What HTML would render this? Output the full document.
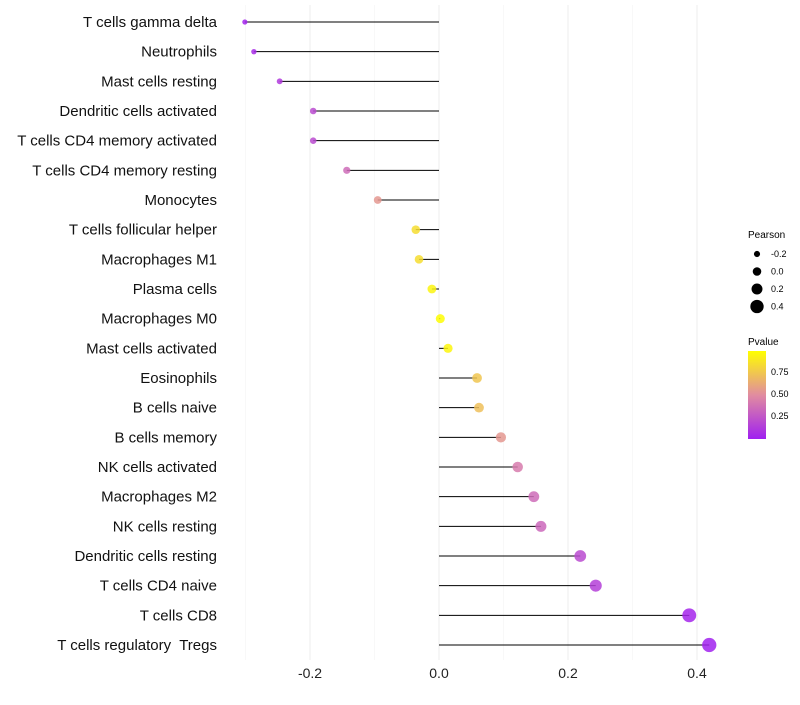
<!DOCTYPE html>
<html><head><meta charset="utf-8"><style>
body{margin:0;background:#fff;font-family:"Liberation Sans",sans-serif}
</style></head><body>
<svg id="chart" width="800" height="700" xmlns="http://www.w3.org/2000/svg" font-family="Liberation Sans, sans-serif">
<defs><linearGradient id="pg" x1="0" y1="1" x2="0" y2="0">
<stop offset="0" stop-color="#A020F0"/><stop offset="0.5" stop-color="#E18CA0"/><stop offset="1" stop-color="#FFFF00"/></linearGradient></defs>
<g id="grid"></g><g id="marks"></g><g id="labels"></g>
<g font-size="9">
<text x="748" y="238" font-size="10">Pearson</text>
<g id="sizeLegend"></g>
</g>
<g font-size="9">
<text x="748" y="345" font-size="10">Pvalue</text>
<rect x="748" y="351" width="18" height="88" fill="url(#pg)"/>
<text x="771" y="375">0.75</text><text x="771" y="397">0.50</text><text x="771" y="419">0.25</text>
</g>
</svg>
<script>
const categories=["T cells gamma delta","Neutrophils","Mast cells resting","Dendritic cells activated","T cells CD4 memory activated","T cells CD4 memory resting","Monocytes","T cells follicular helper","Macrophages M1","Plasma cells","Macrophages M0","Mast cells activated","Eosinophils","B cells naive","B cells memory","NK cells activated","Macrophages M2","NK cells resting","Dendritic cells resting","T cells CD4 naive","T cells CD8","T cells regulatory  Tregs"];
const pearson=[-0.301,-0.287,-0.247,-0.195,-0.195,-0.143,-0.095,-0.036,-0.031,-0.011,0.002,0.014,0.059,0.062,0.096,0.122,0.147,0.158,0.219,0.243,0.388,0.419];
const pvalue=[0.02,0.05,0.12,0.2,0.2,0.35,0.55,0.85,0.85,0.95,0.99,0.96,0.75,0.72,0.55,0.42,0.35,0.33,0.2,0.15,0.03,0.01];
const xTicks=[-0.2,0.0,0.2,0.4];
const xMinor=[-0.3,-0.1,0.1,0.3];
const sizeVals=[-0.2,0.0,0.2,0.4];
const NS="http://www.w3.org/2000/svg";
const X=v=>439+v*645;
const Y=i=>22+i*(623/21);
const R=v=>Math.max(1.8,4.5+6.3*v);
function col(p){const s=[[160,32,240],[225,140,160],[255,255,0]];let a,b,t;if(p<0.5){a=s[0];b=s[1];t=p/0.5}else{a=s[1];b=s[2];t=(p-0.5)/0.5}return `rgb(${a.map((c,k)=>Math.round(c+(b[k]-c)*t)).join(',')})`}
function mk(tag,at,par){const e=document.createElementNS(NS,tag);for(const k in at)e.setAttribute(k,at[k]);par.appendChild(e);return e}
const grid=document.getElementById('grid'),marks=document.getElementById('marks'),labels=document.getElementById('labels');
xMinor.forEach(v=>{const l=mk('line',{x1:X(v),x2:X(v),y1:5,y2:660,stroke:'#f4f4f4','stroke-width':0.6},grid);

});
xTicks.forEach(v=>{const l=mk('line',{x1:X(v),x2:X(v),y1:5,y2:660,stroke:'#ececec','stroke-width':1},grid);


const t=mk('text',{x:X(v),y:678,'text-anchor':'middle','font-size':14,fill:'#222'},labels);t.textContent=v.toFixed(1);

});
categories.forEach((c,i)=>{const y=Y(i);
const ln=mk('line',{x1:X(0),x2:X(pearson[i]),y1:y,y2:y,stroke:'#000','stroke-width':1},marks);


const p=mk('circle',{cx:X(pearson[i]),cy:y,r:R(pearson[i]),fill:col(pvalue[i]),'fill-opacity':0.85},marks);


const t=mk('text',{x:217,y:y+5,'text-anchor':'end','font-size':15,fill:'#111',style:'white-space:pre'},labels);t.textContent=c;

});
const sl=document.getElementById('sizeLegend');
sizeVals.forEach((v,i)=>{const y=254+i*17.5;
const c=mk('circle',{cx:757,cy:y,r:R(v)*0.95,fill:'#000'},sl);


const t=mk('text',{x:771,y:y+3},sl);t.textContent=v.toFixed(1);

});
</script>
</body></html>
